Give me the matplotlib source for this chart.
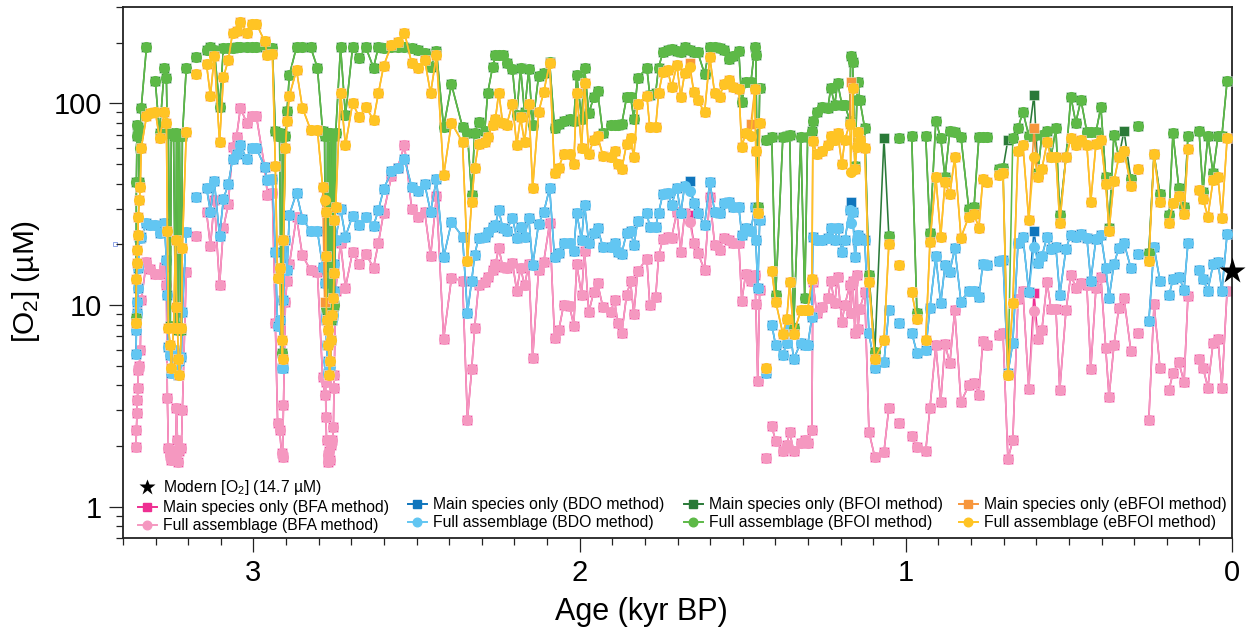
"""
Dissolved oxygen reconstruction by age, four methods, main species vs full assemblage.
"""

import numpy as np
import matplotlib
matplotlib.use("Agg")
import matplotlib.pyplot as plt
from matplotlib.lines import Line2D
from matplotlib.ticker import MultipleLocator, NullFormatter

nan = np.nan

AGE = [
    3.360, 3.359, 3.357, 3.356, 3.354, 3.353, 3.350, 3.347, 3.344, 3.328,
    3.316, 3.301, 3.288, 3.273, 3.267, 3.264, 3.261, 3.255, 3.252, 3.245,
    3.239, 3.236, 3.233, 3.230, 3.227, 3.221, 3.218, 3.206, 3.190, 3.175,
    3.160, 3.144, 3.132, 3.120, 3.104, 3.092, 3.077, 3.064, 3.052, 3.040,
    3.021, 3.006, 2.991, 2.966, 2.957, 2.942, 2.933, 2.926, 2.920, 2.914,
    2.911, 2.908, 2.902, 2.897, 2.890, 2.868, 2.850, 2.825, 2.804, 2.788,
    2.782, 2.779, 2.778, 2.776, 2.773, 2.770, 2.767, 2.764, 2.761, 2.758,
    2.755, 2.753, 2.752, 2.748, 2.733, 2.718, 2.696, 2.675, 2.656, 2.632,
    2.617, 2.601, 2.577, 2.558, 2.537, 2.515, 2.497, 2.475, 2.457, 2.439,
    2.417, 2.393, 2.359, 2.344, 2.331, 2.322, 2.310, 2.291, 2.282, 2.267,
    2.258, 2.248, 2.236, 2.224, 2.206, 2.193, 2.181, 2.169, 2.156, 2.144,
    2.126, 2.110, 2.092, 2.077, 2.064, 2.049, 2.031, 2.018, 2.009, 1.994,
    1.985, 1.972, 1.957, 1.945, 1.929, 1.905, 1.893, 1.883, 1.871, 1.856,
    1.844, 1.834, 1.822, 1.794, 1.785, 1.767, 1.758, 1.745, 1.730, 1.718,
    1.702, 1.690, 1.678, 1.663, 1.650, 1.638, 1.617, 1.601, 1.586, 1.571,
    1.558, 1.543, 1.531, 1.512, 1.503, 1.491, 1.475, 1.463, 1.460, 1.454,
    1.448, 1.439, 1.429, 1.420, 1.411, 1.399, 1.377, 1.365, 1.356, 1.344,
    1.322, 1.310, 1.301, 1.288, 1.285, 1.273, 1.258, 1.239, 1.230, 1.218,
    1.209, 1.196, 1.187, 1.172, 1.169, 1.163, 1.156, 1.150, 1.147, 1.141,
    1.126, 1.113, 1.095, 1.067, 1.052, 1.037, 1.021, 1.003, 0.982, 0.966,
    0.954, 0.939, 0.926, 0.908, 0.893, 0.880, 0.865, 0.850, 0.831, 0.807,
    0.791, 0.776, 0.764, 0.752, 0.727, 0.715, 0.702, 0.687, 0.672, 0.656,
    0.641, 0.623, 0.607, 0.595, 0.583, 0.567, 0.555, 0.540, 0.528, 0.509,
    0.494, 0.479, 0.463, 0.445, 0.433, 0.417, 0.402, 0.387, 0.377, 0.362,
    0.347, 0.331, 0.310, 0.298, 0.288, 0.273, 0.255, 0.239, 0.221, 0.206,
    0.193, 0.181, 0.163, 0.147, 0.135, 0.117, 0.101, 0.089, 0.074, 0.058,
    0.043, 0.031, 0.015,
]

FULL_BFA = [
    1.97, 2.4, 2.9, 3.4, 3.9, 4.75, 5, 6, 10.6, 16.4,
    15, 14.2, 14.2, 15.5, 12.5, 3.47, 1.95, 1.8, 1.7, 1.9,
    1.8, 3.1, 2.14, 1.66, 1.9, 1.95, 3, 14.6, nan, 22,
    nan, 28.9, 19.6, 33, 12.5, 24.2, 31.7, 61, 68, 95,
    80, 86, 86, 48.5, 35, 36, 8.1, 2.6, 2.4, 1.85,
    1.76, 3.2, 10.4, 13.2, 15.9, 27.4, 17.6, 14.9, 14.6, 4.4,
    3.6, 4.15, 2.8, 2.14, 1.8, 1.66, 1.9, 1.7, 2.02, 2.14,
    2.48, 3.87, 4.5, 11.8, 20.3, 12.2, 18.4, 15.9, 18, 15.3,
    20.3, 28.6, 43.5, 48, 62, 30, 27.4, 29, 17.4, 34.8,
    6.8, 13.6, 13.2, 2.7, 4.8, 7.7, 12.5, 13, 13.8, 14.9,
    15.9, 19.2, 15.5, 15.2, 16.2, 11.8, 15.3, 12.5, 15.9, 5.45,
    14.9, 16.4, 25.5, 6.9, 7.5, 10, 9.9, 7.9, 15.9, 11.2,
    18.6, 9.2, 11.6, 12.8, 9.8, 9.2, 10.6, 8.1, 7.25, 11.2,
    13.1, 9, 14.7, 17, 10, 10.9, 17.4, 21.3, 21.8, 21.6,
    28.9, 18.4, 28.6, 25.8, 20.3, 18.2, 14.9, 34.4, 19.9, 18.7,
    21.6, 21, 20.3, 20.3, 10.5, 14.2, 13.1, 14.1, 10.1, 4.2,
    11.9, nan, 1.74, nan, 2.5, 2.12, 1.89, 2.02, 2.35, 1.89,
    2.07, 2.14, 2.07, 2.4, 13, 9.1, 9.8, 10.8, 13.1, 10.2,
    13.8, 8.2, 10, 12.5, 9.1, 13.2, 7.25, 14.1, 7.6, 9.6,
    11.6, 2.35, 1.76, 1.87, 3.1, nan, 2.6, nan, 2.24, 1.97,
    nan, 1.89, 3.1, 6.3, 3.3, 6.4, 5.15, 9.4, 3.3, 4,
    4.1, 3.6, 6.6, 6.3, nan, 7.1, 7.25, 1.72, 2.14, 10.7,
    11.7, 3.83, 9.3, 6.8, 7.5, 13, 9.6, 9.6, 3.8, 9.4,
    14.1, 12.2, 12.8, 12.5, 4.8, 12.2, 13.8, 6.1, 3.5, 6.3,
    9.7, 10.8, 5.9, nan, 7.3, nan, 2.7, 10.1, 4.9, nan,
    3.8, 4.6, 5.2, 4.15, 11.1, nan, 5.4, 4.9, 3.9, 6.5,
    6.8, 3.9, 11.8,
]

FULL_BDO = [
    5.7, 7.5, 9.1, 10.4, 12.1, 15.3, 21.8, 21.6, 21.8, 25.5,
    25, 25, 22.8, 25.5, 16.7, 11.2, 6.2, 5.65, 4.6, 6,
    5.45, 5, 5.3, 4.5, 5.3, 5.5, 9.2, 23, nan, 34.4,
    nan, 38, 29, 41, 22, 33.6, 39.8, 53, 56, 62,
    53, 60, 60, 48.5, 41.5, 42, 18.4, 7.9, 8.4, 4.9,
    4.9, 10.6, 21, 14.9, 28, 36, 26.7, 23.4, 23.3, 15.5,
    12.8, 8.4, 8.8, 6.3, 5.3, 4.6, 5, 5, 6.7, 8.4,
    8.9, 11.8, 15.9, 21, 30, 21.8, 27.7, 25, 27.4, 24.7,
    29.5, 37.5, 46, 48, 53, 38.5, 36.8, 39.8, 28.9, 42,
    17.2, 25.8, 21.8, 9.1, 13.2, 17.6, 21.6, 21.8, 23, 24.4,
    25, 29.5, 24.2, 23.4, 27, 21.6, 24.4, 21.8, 27, 15.7,
    25.2, 28.9, 38, 17.2, 18.2, 20.3, 20.3, 18.6, 28.6, 21,
    31.4, 20.3, 22.8, 24.2, 19.4, 19.4, 20.3, 18.4, 18, 22.8,
    23.4, 19.9, 26, 28.6, 24.4, 24.4, 28.6, 35.5, 36, 31.4,
    38, 28.6, 39, 36.8, 32, 28.6, 25, 40.5, 29, 28.6,
    32, 32.5, 30.6, 30.6, 22.3, 24.2, 23.4, 30.6, 21, 12.1,
    26.3, nan, 4.6, nan, 8, 6.3, 5.65, 6.5, 7.8, 5.4,
    6.5, 6.3, 6.3, 8.7, 21.8, 21, 21, 21.6, 24.2, 21,
    24.2, 18.4, 21, 29.5, 25.5, 28.9, 17.2, 21, 22.3, 21.6,
    21, 7.25, 4.9, 5.2, 9.4, nan, 8.1, nan, 7.3, 5.8,
    nan, 6, 9.7, 17.4, 10.2, 15.7, 14.6, 19.2, 10.4, 11.8,
    11.8, 10.9, 16, 15.7, nan, 16.6, 16.7, 4.6, 6.5, 20.3,
    21.8, 11.6, 19.4, 16.2, 17.4, 21.8, 19, 19.4, 11.2, 19,
    22.3, 21.8, 22.5, 21.6, 13.2, 21.3, 22.3, 15.3, 10.8, 15.9,
    19.2, 20.3, 15.2, nan, 17.8, nan, 8.3, 19.4, 13.2, nan,
    11.2, 13.4, 13.8, 11.9, 20.3, nan, 14.9, 13.4, 11.8, 15.9,
    16.4, 11.7, 22.5,
]

FULL_BFOI = [
    8.6, 40.5, 69, 78, 71, 76, 40.5, 60, 95, 190,
    nan, 129, 71, 150, 133, 71, 71, 7.9, 71, 69,
    7.9, 71, 69, 7.5, 69, 7.5, 69, 150, nan, 169,
    nan, 184, 190, 184, 96, 188, 188, 188, 190, 190,
    190, 190, 190, 190, 188, 188, 73, 69, 71, 5.8,
    69, 21, 69, 92, 138, 190, 190, 190, 150, 73,
    69, 9.8, 33, 9.4, 71, 71, 8.4, 71, 8.4, 69,
    9.8, 69, 10, 71, 190, 87, 190, 167, 190, 150,
    190, 188, 190, 190, 190, 188, 184, 177, 151, 181,
    76, 124, 76, 71, 35, 71, 81, 73, 112, 151,
    173, 173, 173, 158, 148, 87, 150, 90, 148, 78,
    136, 141, 160, 75, 79, 82, 84, 82, 138, 84,
    150, 89, 107, 115, 71, 78, 78, 78, 79, 107,
    108, 84, 133, 150, 110, 113, 150, 179, 184, 186,
    181, 179, 190, 184, 179, 179, 140, 190, 190, 188,
    184, 165, 171, 181, 102, 127, 127, 190, 173, 30.6,
    119, nan, 66, nan, 68, 11.2, 68, 69, 70, 7.7,
    68, 10.8, 68, 73, 82, 90, 96, 95, 119, 98.5,
    126, 98.5, 98.5, 82, 171, 160, 49, 104, 127, 104,
    75, 14.1, 5.85, nan, 22, nan, 67, nan, 69, 9.1,
    nan, 69, 22.8, 82, 67, 43, 73, 72, 68, 30,
    30.6, 68, 68, 68, nan, 47, 47.5, 4.5, 67, 75,
    91, 69, 69, 45, 70, 73, 54, 75, 28, 54,
    108, 80, 104, 72, 72, 72, 96, 43, 24.2, 70,
    54, 58, 42, nan, 77, nan, 18.2, 56, 35.5, nan,
    28, 71, 38, 30.6, 69, nan, 73, 36.4, 69, 45,
    69, 69, 129,
]

FULL_EBFOI = [
    8.1, 13.4, 16.2, 18.7, 22.3, 27.4, 33, 38.5, 60, 86,
    89, 91, 67, 90, 80, 23.3, 7.7, 6.3, 4.9, 7.7,
    21, 9.8, 7.7, 5.4, 4.5, 7.7, 19.2, 72, nan, 140,
    nan, 156, 109, 171, 64, 135, 164, 224, 229, 254,
    224, 248, 248, 203, 173, 175, 49, 13.6, 15.3, 6.7,
    5.4, 21, 60, 82, 109, 146, 95, 74, 74, 38.5,
    33, 28.9, 17.4, 8.4, 7.5, 6.3, 4.5, 5.3, 6.7, 8.9,
    10.8, 14.4, 26.3, 30.6, 113, 62, 100, 85, 96, 83,
    112, 153, 195, 201, 224, 158, 150, 164, 112, 173,
    44, 80, 64, 16.6, 32.5, 47.5, 63, 64, 68, 78,
    84, 113, 80, 78, 99.5, 62, 85, 64, 99.5, 38,
    90, 114, 158, 45, 48, 56, 56, 50, 113, 60,
    126, 56, 66, 69, 55, 54, 58, 50, 47, 63,
    67, 54, 99.5, 109, 76, 76, 112, 143, 146, 120,
    155, 107, 141, 151, 114, 104, 90, 169, 112, 108,
    124, 130, 120, 118, 61, 71, 69, 118, 58, 28.6,
    80, nan, 4.9, nan, 14.7, 10.4, 7.2, 8.5, 13, 7.2,
    9.4, 9.4, 9.4, 13.4, 65, 56, 58, 62, 69, 66,
    71, 50, 66, 79, 45.5, 119, 47, 61, 72, 66,
    60, 13, 5.4, 6.7, 20.1, nan, 15.7, nan, 11.6, 8.5,
    nan, 6.7, 20.6, 43, 21.8, 40.5, 35.5, 54, 21.6, 27.4,
    28.2, 24.2, 42, 40.5, nan, 44, 45, 4.5, 10.2, 58,
    62, 26.3, 54, 43, 47, 64, 54, 54, 25.5, 54,
    67, 62, 66, 62, 32.5, 63, 66, 39.8, 23.4, 41,
    54, 58, 39, nan, 47, nan, 16.6, 56, 32.5, nan,
    25.5, 32, 34.8, 28.2, 59, nan, 37, 33.6, 27.4, 41.5,
    43, 27, 67,
]

# main species runs on the same samples; these are the ages where it reads differently
MAIN_BFA_DIFF = {1.663: 28, 0.607: 11.5}
MAIN_BDO_DIFF = {1.663: 41, 1.169: 32.5, 0.607: 23.4}
MAIN_BFOI_DIFF = {1.067: 67, 0.687: 66, 0.607: 110, 0.331: 73}
MAIN_EBFOI_DIFF = {2.782: 10.4, 1.663: 158, 1.475: 79, 1.169: 127, 0.607: 75}

MODERN_AGE = 0
MODERN_O2 = 14.7

METHODS = ["BFA", "BDO", "BFOI", "eBFOI"]
MAIN_COLORS = ["#EE2F92", "#0F75BC", "#2A7A38", "#F7963C"]
FULL_COLORS = ["#F598C0", "#62C6F2", "#5DB947", "#FFC424"]

W, H = 1251, 632


def with_diff(full, diff):
    out = list(full)
    for i, age in enumerate(AGE):
        if age in diff:
            out[i] = diff[age]
    return out


def main():
    plt.rcParams["font.family"] = ["Liberation Sans", "DejaVu Sans"]
    plt.rcParams["mathtext.default"] = "regular"

    fig = plt.figure(figsize=(W / 100, H / 100), dpi=100)
    ax = fig.add_axes([123 / W, 1 - 538 / H, (1232 - 123) / W, (538 - 7) / H])

    full_series = [FULL_BFA, FULL_BDO, FULL_BFOI, FULL_EBFOI]
    diffs = [MAIN_BFA_DIFF, MAIN_BDO_DIFF, MAIN_BFOI_DIFF, MAIN_EBFOI_DIFF]
    for i, name in enumerate(METHODS):
        main_vals = with_diff(full_series[i], diffs[i])
        ax.plot(AGE, main_vals, "-s", color=MAIN_COLORS[i], lw=1.15, ms=7.5, mec=(1, 1, 1, 0.6), mew=0.5, zorder=2 + i)
        ax.plot(AGE, full_series[i], "-o", color=FULL_COLORS[i], lw=1.15, ms=8.0, mec="none", zorder=2 + i)

    ax.plot(MODERN_AGE, MODERN_O2, "*", color="black", ms=20, mec="none", clip_on=False, zorder=10)
    # stray hollow marker on the axis in the source figure
    ax.plot(3.423, 20.1, "s", mfc="white", mec="#8FA5E8", ms=3.5, mew=0.7, clip_on=False, zorder=1)

    ax.set_yscale("log")
    ax.set_ylim(0.7, 300)
    ax.set_xlim(3.4, 0)
    ax.set_yticks([1, 10, 100], ["1", "10", "100"])
    ax.yaxis.set_minor_formatter(NullFormatter())
    ax.set_xticks([3, 2, 1, 0], ["3", "2", "1", "0"])
    ax.xaxis.set_minor_locator(MultipleLocator(0.1))
    ax.tick_params(axis="both", which="major", length=10, width=0.9, labelsize=21, pad=5, color="#222222")
    ax.tick_params(axis="both", which="minor", length=5, width=0.9, color="#222222")
    for side in ax.spines:
        ax.spines[side].set_linewidth(1.3)
        ax.spines[side].set_color("#222222")

    ax.set_xlabel("Age (kyr BP)", fontsize=22)
    ax.xaxis.set_label_coords((641 - 123) / 1109, -0.112)
    ax.set_ylabel("[O$_2$] (µM)", fontsize=21.5)
    ax.yaxis.set_label_coords((42 - 123) / 1109, (538 - 281) / 531)

    # one legend per method so columns land where the source has them
    tops = [478, 497, 497, 497]
    lefts = [138, 408, 684, 959]
    for i, name in enumerate(METHODS):
        handles = []
        if i == 0:
            handles.append(Line2D([], [], marker="*", ls="none", color="black", ms=12, mec="none",
                                  label=f"Modern [O$_2$] ({MODERN_O2} µM)"))
        handles.append(Line2D([], [], marker="s", color=MAIN_COLORS[i], lw=1.4, ms=6.2,
                              label=f"Main species only ({name} method)"))
        handles.append(Line2D([], [], marker="o", color=FULL_COLORS[i], lw=1.4, ms=6.2,
                              label=f"Full assemblage ({name} method)"))
        fig.legend(handles=handles, loc="upper left", bbox_to_anchor=(lefts[i] / W, 1 - tops[i] / H),
                   bbox_transform=fig.transFigure, frameon=False, fontsize=11.3, borderpad=0,
                   borderaxespad=0, handlelength=1.18, handletextpad=0.41, labelspacing=0.2)

    fig.savefig("out.png", dpi=100)
    plt.close(fig)


if __name__ == "__main__":
    main()
